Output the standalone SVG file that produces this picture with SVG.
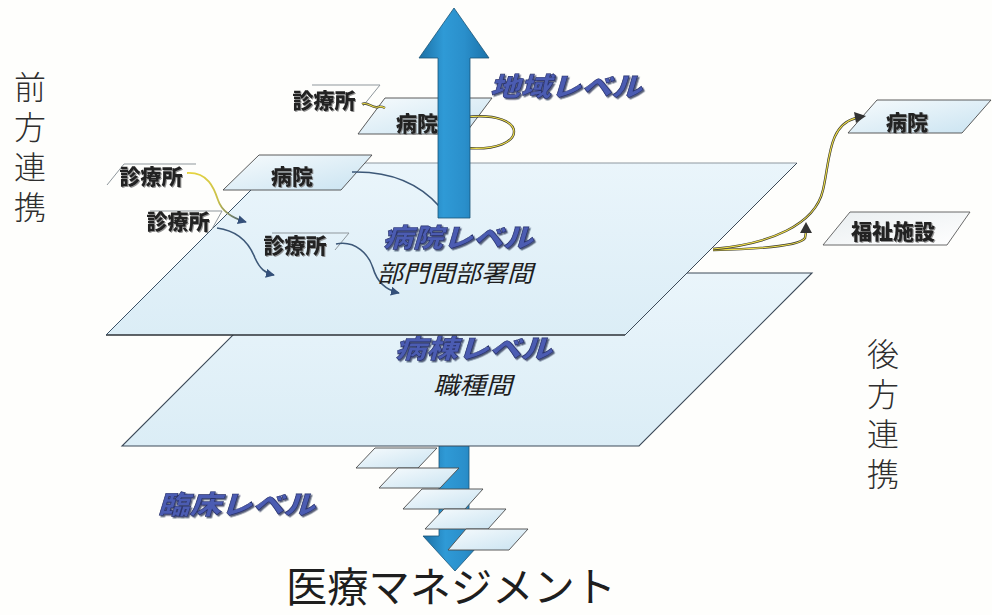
<svg xmlns="http://www.w3.org/2000/svg" width="992" height="615" viewBox="0 0 992 615">
  <style>
    .jp { font-family: "Noto Sans CJK JP", "Noto Sans", sans-serif; }
    .vert { font-family: "Noto Sans CJK JP", sans-serif; font-size: 32px; fill: #2e2e2e; font-weight: 300; writing-mode: vertical-rl; letter-spacing: 8px; }
    .lvl { font-family: "Noto Sans CJK JP", sans-serif; font-weight: 900; font-style: italic; font-size: 26px; fill: #4c5cb2; stroke: #27316c; stroke-width: 0.6; filter: url(#lvlShadow); }
    .sub { font-family: "Noto Sans CJK JP", sans-serif; font-style: italic; font-size: 24px; fill: #1e1e1e; }
    .lab { font-family: "Noto Sans CJK JP", sans-serif; font-weight: 900; font-size: 21px; fill: #202020; text-anchor: middle; filter: url(#labShadow); }
    .smallplane { fill: url(#smallFill); stroke: #4a4a4a; stroke-width: 0.9; }
    .edge { fill: none; stroke: #8f979c; stroke-width: 1; }
    .cdark { fill: none; stroke: #3a3a30; stroke-width: 2.4; }
    .cyel { fill: none; stroke: #f0df4a; stroke-width: 1.1; }
    .cblue { fill: none; stroke: #3d5878; stroke-width: 1.6; }
  </style>
  <defs>
    <linearGradient id="planeFill" x1="0" y1="0" x2="0" y2="1">
      <stop offset="0" stop-color="#eaf5fb"/>
      <stop offset="1" stop-color="#dbedf6"/>
    </linearGradient>
    <linearGradient id="smallFill" x1="0" y1="0" x2="1" y2="1">
      <stop offset="0" stop-color="#f7fbfd"/>
      <stop offset="1" stop-color="#c9e3f1"/>
    </linearGradient>
    <linearGradient id="whiteFill" x1="0" y1="0" x2="1" y2="1">
      <stop offset="0" stop-color="#e9eef0"/>
      <stop offset="1" stop-color="#ffffff"/>
    </linearGradient>
    <linearGradient id="arrowFill" x1="0" y1="0" x2="1" y2="0">
      <stop offset="0" stop-color="#1b6fa4"/>
      <stop offset="0.35" stop-color="#2f9ad6"/>
      <stop offset="0.65" stop-color="#2a8fcb"/>
      <stop offset="1" stop-color="#1b72aa"/>
    </linearGradient>
    <linearGradient id="connGrad" gradientUnits="userSpaceOnUse" x1="187" y1="173" x2="245" y2="221">
      <stop offset="0" stop-color="#e8d640"/>
      <stop offset="0.55" stop-color="#c9c04a"/>
      <stop offset="1" stop-color="#3d5878"/>
    </linearGradient>
    <filter id="lvlShadow" x="-10%" y="-20%" width="130%" height="160%">
      <feDropShadow dx="1.5" dy="1.5" stdDeviation="0.6" flood-color="#141a40" flood-opacity="0.7"/>
    </filter>
    <filter id="labShadow" x="-10%" y="-20%" width="130%" height="160%">
      <feDropShadow dx="1" dy="1" stdDeviation="0.5" flood-color="#777777" flood-opacity="0.8"/>
    </filter>
    <marker id="ahBlue" viewBox="0 0 10 10" refX="9" refY="5" markerWidth="9" markerHeight="9" markerUnits="userSpaceOnUse" orient="auto">
      <path d="M0,0 L10,5 L0,10 Z" fill="#34507a"/>
    </marker>
  </defs>

  <rect x="0" y="0" width="992" height="615" fill="#fefefc"/>

  <!-- bottom arrow (behind planes) -->
  <g id="arrow-bottom">
    <path d="M439,440 L469,440 L469,536 L487,536 L455,571 L423,536 L439,536 Z" fill="url(#arrowFill)" stroke="#1a5476" stroke-width="0.8"/>
  </g>

  <!-- lower big plane: 病棟レベル -->
  <g id="plane-ward">
    <polygon points="295,273 812,273 639,446 122,446" fill="url(#planeFill)" stroke="#3c4a58" stroke-width="1.1"/>
    <text class="lvl" x="395" y="358" textLength="157" lengthAdjust="spacingAndGlyphs">病棟レベル</text>
    <text class="sub" x="433" y="394" textLength="79" lengthAdjust="spacingAndGlyphs">職種間</text>
  </g>

  <!-- upper big plane: 病院レベル -->
  <g id="plane-hospital">
    <polygon points="278,163 797,163 625,335 106,335" fill="url(#planeFill)"/>
    <line x1="278" y1="163" x2="797" y2="163" stroke="#8d989f" stroke-width="1.2"/>
    <line x1="797" y1="163" x2="625" y2="335" stroke="#3c4a58" stroke-width="1"/>
    <line x1="106" y1="335" x2="625" y2="335" stroke="#2c3036" stroke-width="1.3"/>
    <line x1="106" y1="335" x2="278" y2="163" stroke="#3a5066" stroke-width="1"/>
  </g>

  <!-- bottom stacked small planes: 臨床レベル -->
  <g id="clinical-planes">
    <polygon class="smallplane" points="375,448 437,448 418,468 356,468"/>
    <polygon class="smallplane" points="398,468 459,468 440,488 379,488"/>
    <polygon class="smallplane" points="422,489 483,489 465,509 403,509"/>
    <polygon class="smallplane" points="444,509 506,509 488,529 425,529"/>
    <polygon class="smallplane" points="466,529 528,529 509,550 448,550"/>
  </g>

  <g id="label-clinical">
    <text class="lvl" x="158" y="514" textLength="157" lengthAdjust="spacingAndGlyphs">臨床レベル</text>
  </g>

  <!-- top hospital (地域レベル) -->
  <g id="node-top-hospital">
    <polygon class="smallplane" points="385,98 492,98 465,134 358,134"/>
    <text class="lab" x="417" y="131">病院</text>
  </g>

  <g id="node-top-clinic">
    <polyline class="edge" points="312,85 380,85 363,106"/>
    <text class="lab" x="324" y="108">診療所</text>
  </g>

  <!-- left nodes -->
  <g id="node-left-hospital">
    <polygon class="smallplane" points="259,155 372,155 341,190 223,190"/>
    <text class="lab" x="292" y="184">病院</text>
  </g>

  <g id="node-left-clinic1">
    <polyline class="edge" points="107,185 124,164 196,164"/>
    <text class="lab" x="151" y="184">診療所</text>
  </g>

  <g id="node-left-clinic2">
    <polyline class="edge" points="150,211 222,211 212,229"/>
    <text class="lab" x="178" y="229">診療所</text>
  </g>

  <g id="node-left-clinic3">
    <polyline class="edge" points="272,233 349,233 335,250"/>
    <text class="lab" x="295" y="253">診療所</text>
  </g>

  <!-- right nodes -->
  <g id="node-right-hospital">
    <polygon class="smallplane" points="877,100 991,100 962,133 848,133"/>
    <text class="lab" x="907" y="130">病院</text>
  </g>

  <g id="node-right-welfare">
    <polygon points="850,212 970,212 947,245 823,245" fill="url(#whiteFill)" stroke="#5a5a5a" stroke-width="0.9"/>
    <text class="lab" x="893" y="239">福祉施設</text>
  </g>

  <!-- connectors -->
  <g id="connectors">
    <path class="cdark" d="M362,104 C368,101 372,109 378,107 C381,106 383,107 385,108"/>
    <path class="cyel" d="M362,104 C368,101 372,109 378,107 C381,106 383,107 385,108"/>
    <path class="cdark" d="M466,117 C530,110 530,153 466,148"/>
    <path class="cyel" d="M466,117 C530,110 530,153 466,148"/>
    <path class="cblue" d="M352,172 C392,171 420,184 440,207"/>
    <path fill="none" stroke="url(#connGrad)" stroke-width="1.8" d="M187,173 C208,172 214,188 218,200 C222,212 232,218 246,222" marker-end="url(#ahBlue)"/>
    <path class="cblue" d="M217,228 C240,231 250,245 255,258 C260,269 265,273 274,275" marker-end="url(#ahBlue)"/>
    <path class="cblue" d="M336,244 C356,240 369,255 373,268 C377,282 386,290 399,293" marker-end="url(#ahBlue)"/>
    <path class="cdark" d="M713,250 C760,249 800,246 805,238 L806,232"/>
    <path class="cyel" d="M713,250 C760,249 800,246 805,238 L806,232"/>
    <path d="M800,233 L806,222 L812,233 Z" fill="#333333"/>
    <path class="cdark" d="M713,249 C770,244 815,225 823,190 C830,160 828,125 856,118"/>
    <path class="cyel" d="M713,249 C770,244 815,225 823,190 C830,160 828,125 856,118"/>
    <path d="M854,112 L866,116 L856,123 Z" fill="#333333"/>
  </g>

  <!-- top arrow (in front of planes) -->
  <g id="arrow-top">
    <path d="M454,8 L489,58 L470,58 L470,218 L438,218 L438,58 L419,58 Z" fill="url(#arrowFill)" stroke="#1a5476" stroke-width="0.8"/>
  </g>

  <!-- level labels -->
  <g id="label-regional">
    <text class="lvl" x="490" y="96" textLength="152" lengthAdjust="spacingAndGlyphs">地域レベル</text>
  </g>
  <g id="label-hospital-level">
    <text class="lvl" x="383" y="247" textLength="150" lengthAdjust="spacingAndGlyphs">病院レベル</text>
    <text class="sub" x="377" y="282" textLength="156" lengthAdjust="spacingAndGlyphs">部門間部署間</text>
  </g>

  <!-- side vertical labels -->
  <g id="label-forward">
    <text class="vert" x="30" y="71">前方連携</text>
  </g>
  <g id="label-backward">
    <text class="vert" x="883" y="338">後方連携</text>
  </g>

  <!-- title -->
  <g id="title">
    <text class="jp" x="286" y="602" font-size="41" fill="#1e1e1e" textLength="330" lengthAdjust="spacingAndGlyphs">医療マネジメント</text>
  </g>
</svg>
